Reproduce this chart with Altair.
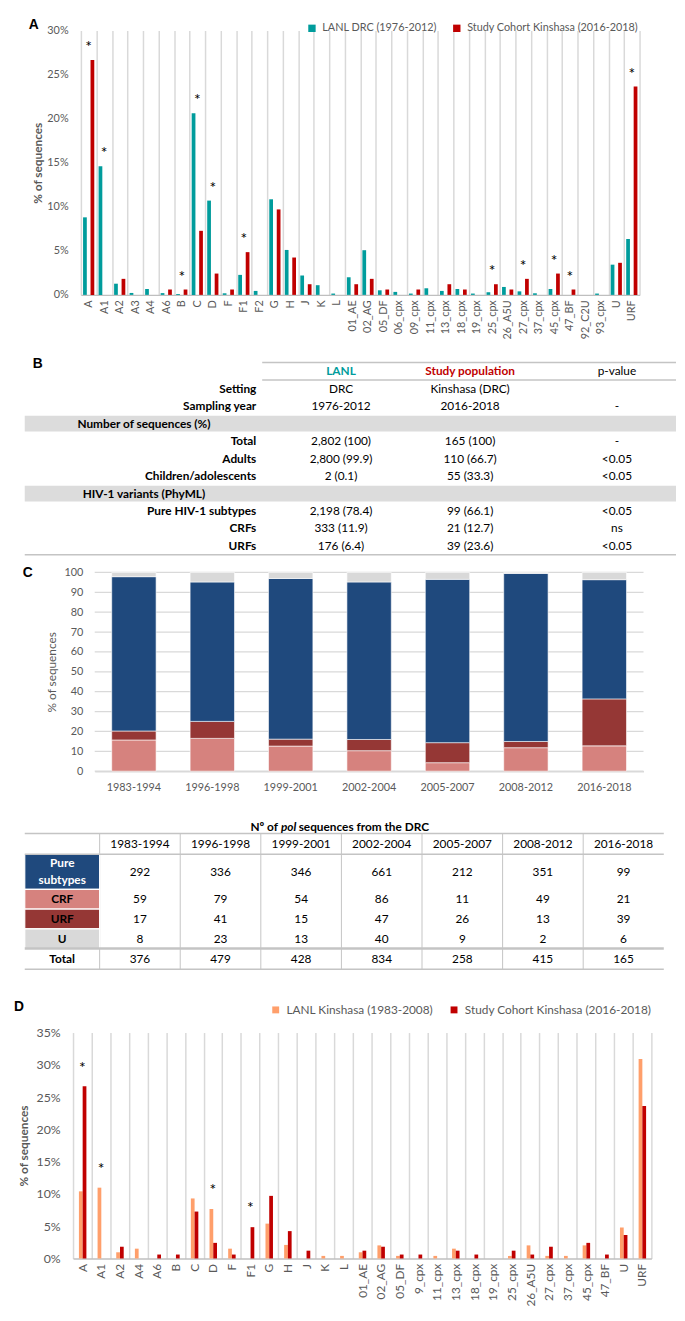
import altair as alt
import pandas as pd

FONT = "Lato"
TXT = "#595959"
GRID = "#D9D9D9"
AXIS_LINE = "#BFBFBF"
TEAL = "#009C9C"
RED = "#C00000"
ORANGE = "#FF9F6B"
BLUE = "#1F497D"
CRF_C = "#D6827E"
URF_C = "#953735"
U_C = "#D9D9D9"
BAND = "#DCDCDC"
LINE = "#C4C4C4"

# ---------------- Panel A data ----------------
a_subtypes = ["A", "A1", "A2", "A3", "A4", "A6", "B", "C", "D", "F", "F1", "F2", "G", "H", "J", "K", "L",
              "01_AE", "02_AG", "05_DF", "06_cpx", "09_cpx", "11_cpx", "13_cpx", "18_cpx", "19_cpx",
              "25_cpx", "26_A5U", "27_cpx", "37_cpx", "45_cpx", "47_BF", "92_C2U", "93_cpx", "U", "URF"]
a_lanl = [8.8, 14.6, 1.27, 0.22, 0.67, 0.2, 0.1, 20.6, 10.7, 0.18, 2.27, 0.45, 10.85, 5.1, 2.2, 1.1, 0.15,
          2.0, 5.07, 0.52, 0.34, 0.15, 0.75, 0.45, 0.67, 0.15, 0.3, 0.9, 0.4, 0.18, 0.67, 0.0, 0.0, 0.15,
          3.43, 6.34]
a_study = [26.67, 0, 1.82, 0, 0, 0.61, 0.61, 7.27, 2.42, 0.61, 4.85, 0, 9.7, 4.24, 1.21, 0, 0,
           1.21, 1.82, 0.61, 0, 0.61, 0, 1.21, 0.61, 0, 1.21, 0.61, 1.82, 0, 2.42, 0.61, 0, 0,
           3.64, 23.64]
a_stars = ["A", "A1", "B", "C", "D", "F1", "25_cpx", "27_cpx", "45_cpx", "47_BF", "URF"]
a_series = ["LANL DRC (1976-2012)", "Study Cohort Kinshasa (2016-2018)"]

# ---------------- Panel B data ----------------
b_labels = ["", "Setting", "Sampling year", "Number of sequences (%)", "Total", "Adults",
            "Children/adolescents", "HIV-1 variants (PhyML)", "Pure HIV-1 subtypes", "CRFs", "URFs"]
b_lanl = ["LANL", "DRC", "1976-2012", "", "2,802 (100)", "2,800 (99.9)", "2 (0.1)", "",
          "2,198 (78.4)", "333 (11.9)", "176 (6.4)"]
b_study = ["Study population", "Kinshasa (DRC)", "2016-2018", "", "165 (100)", "110 (66.7)",
           "55 (33.3)", "", "99 (66.1)", "21 (12.7)", "39 (23.6)"]
b_p = ["p-value", "", "-", "", "-", "<0.05", "<0.05", "", "<0.05", "ns", "<0.05"]
b_sections = [3, 7]

# ---------------- Panel C data ----------------
periods = ["1983-1994", "1996-1998", "1999-2001", "2002-2004", "2005-2007", "2008-2012", "2016-2018"]
c_pure = [292, 336, 346, 661, 212, 351, 99]
c_crf = [59, 79, 54, 86, 11, 49, 21]
c_urf = [17, 41, 15, 47, 26, 13, 39]
c_u = [8, 23, 13, 40, 9, 2, 6]
c_total = [376, 479, 428, 834, 258, 415, 165]
c_cats = ["CRF", "URF", "Pure subtypes", "U"]
c_row_labels = ["Pure\nsubtypes", "CRF", "URF", "U", "Total"]
c_ticks = list(range(0, 101, 10))

# ---------------- Panel D data ----------------
d_subtypes = ["A", "A1", "A2", "A4", "A6", "B", "C", "D", "F", "F1", "G", "H", "J", "K", "L",
              "01_AE", "02_AG", "05_DF", "9_cpx", "11_cpx", "13_cpx", "18_cpx", "19_cpx", "25_cpx",
              "26_A5U", "27_cpx", "37_cpx", "45_cpx", "47_BF", "U", "URF"]
d_lanl = [10.4, 10.97, 0.96, 1.52, 0, 0, 9.3, 7.67, 1.52, 0, 5.4, 2.1, 0, 0.4, 0.4,
          0.96, 2.03, 0.4, 0, 0.4, 1.52, 0, 0, 0.4, 2.03, 0.4, 0.4, 2.03, 0, 4.8, 30.9]
d_study = [26.67, 0, 1.82, 0, 0.61, 0.61, 7.27, 2.42, 0.61, 4.85, 9.7, 4.24, 1.21, 0, 0,
           1.21, 1.82, 0.61, 0.61, 0, 1.21, 0.61, 0, 1.21, 0.61, 1.82, 0, 2.42, 0.61, 3.64, 23.64]
d_stars = ["A", "A1", "D", "F1"]
d_series = ["LANL Kinshasa (1983-2008)", "Study Cohort Kinshasa (2016-2018)"]

ONE = pd.DataFrame({"k": [0]})
X0 = 24          # page x of every panel's origin
VW = 661         # common view width (page 24 .. 685)


def frame(t, b):
    base = alt.Chart(ONE)
    return [base.mark_rule(color="white", strokeWidth=0.1).encode(
        x=alt.value(-16), x2=alt.value(VW), y=alt.value(yy)) for yy in (t, b)]


def letter(s, x, y):
    return alt.Chart(ONE).mark_text(text=s, font="Liberation Sans", fontWeight="bold", fontSize=14,
                                    align="left", baseline="middle", color="black").encode(
        x=alt.value(x - X0), y=alt.value(y))


def grouped_panel(subs, v1, v2, names, colors, stars, xl, xr, H, ymax, ystep, po, lab_fs, tick_fs,
                  title_x, leg_x, leg_y, leg_fs, sym, col_pad, star_dy, let, frm):
    L, R = xl - X0, xr - X0
    df = pd.DataFrame({"subtype": subs + subs,
                       "series": [names[0]] * len(subs) + [names[1]] * len(subs),
                       "value": list(v1) + list(v2)})
    top = {s: max(a, b) for s, a, b in zip(subs, v1, v2)}
    sdf = pd.DataFrame({"subtype": stars, "value": [top[s] for s in stars]})
    xenc = alt.X("subtype:N", sort=subs, scale=alt.Scale(paddingInner=0, paddingOuter=0, range=[L, R]),
                 axis=alt.Axis(title=None, labelAngle=270, labelFontSize=lab_fs, labelColor=TXT,
                               labelPadding=5, ticks=False, tickSize=0, tickBand="extent", grid=True,
                               gridColor=GRID, gridWidth=1.5, domainColor=AXIS_LINE, domainWidth=1.5))
    yenc = alt.Y("value:Q", scale=alt.Scale(domain=[0, ymax], nice=False),
                 axis=alt.Axis(values=list(range(0, ymax + 1, ystep)), labelExpr="datum.value + '%'",
                               offset=-L, grid=False, domain=False, ticks=False, tickSize=0, labelPadding=13,
                               labelFontSize=tick_fs, labelColor=TXT, title="% of sequences",
                               titleFontWeight="bold", titleFontSize=12, titleColor=TXT,
                               titleX=title_x - xl, titleY=H / 2, titleAngle=270, titleAlign="center",
                               titleBaseline="middle"))
    bars = alt.Chart(df).mark_bar().encode(
        x=xenc,
        xOffset=alt.XOffset("series:N", sort=names, scale=alt.Scale(paddingOuter=po, paddingInner=0)),
        y=yenc,
        color=alt.Color("series:N", sort=names, scale=alt.Scale(domain=names, range=colors),
                        legend=alt.Legend(title=None, orient="none", legendX=leg_x - X0, legendY=leg_y,
                                          direction="horizontal", symbolType="square", symbolSize=sym,
                                          symbolStrokeWidth=0, labelFontSize=leg_fs, labelColor=TXT,
                                          labelLimit=400, columnPadding=col_pad, labelOffset=5,
                                          padding=0)))
    star = alt.Chart(sdf).mark_text(text="*", fontSize=16, dy=star_dy, baseline="alphabetic",
                                    fill="black", color="black").encode(x=xenc, y=yenc)
    return alt.layer(*frame(*frm), bars, star, letter(*let)).properties(width=VW, height=H)


# ---------------- Panel A ----------------
panelA = grouped_panel(a_subtypes, a_lanl, a_study, a_series, [TEAL, RED], a_stars,
                       xl=81, xr=648, H=268.3, ymax=30, ystep=5, po=0.575, lab_fs=11, tick_fs=11,
                       title_x=37, leg_x=310, leg_y=-8, leg_fs=11, sym=56, col_pad=14,
                       star_dy=-8, let=("A", 28, -6), frm=(-10, 324.3))

# ---------------- Panel B (table) ----------------
HB = 195
xsB = alt.Scale(domain=list(range(8)), range=[0, 121, 235, 241, 321, 452, 601, 661], nice=False, zero=False)
ysB = alt.Scale(domain=[-0.5, 10.5], range=[0, HB], nice=False, zero=False)

df_band = pd.DataFrame({"c1": 0, "c2": 7, "r1": [r - 0.45 for r in b_sections],
                        "r2": [r + 0.45 for r in b_sections]})
df_lines = pd.DataFrame({"c1": [3, 3, 0], "c2": [7, 7, 7], "r": [-0.5, 0.5, 10.5]})
lab_rows = [(i, l) for i, l in enumerate(b_labels) if l and i not in b_sections]
df_lab = pd.DataFrame({"r": [i for i, _ in lab_rows], "c": 2, "t": [l for _, l in lab_rows]})
df_sec = pd.DataFrame({"r": b_sections, "c": 1, "t": [b_labels[i] for i in b_sections]})
df_head = pd.DataFrame({"r": [0, 0], "c": [4, 5], "t": [b_lanl[0], b_study[0]], "role": ["lanl", "study"]})
vals = []
for i in range(1, len(b_labels)):
    if b_lanl[i]:
        vals.append((i, 4, b_lanl[i]))
    if b_study[i]:
        vals.append((i, 5, b_study[i]))
for i in range(len(b_labels)):
    if b_p[i]:
        vals.append((i, 6, b_p[i]))
df_val = pd.DataFrame(vals, columns=["r", "c", "t"])

bx = alt.X("c:Q", scale=xsB, axis=None)
by = alt.Y("r:Q", scale=ysB, axis=None)
tB_band = alt.Chart(df_band).mark_rect(color=BAND).encode(
    x=alt.X("c1:Q", scale=xsB, axis=None), x2="c2:Q", y=alt.Y("r1:Q", scale=ysB, axis=None), y2="r2:Q")
tB_lines = alt.Chart(df_lines).mark_rule(color=LINE, strokeWidth=1.5).encode(
    x=alt.X("c1:Q", scale=xsB, axis=None), x2="c2:Q", y=alt.Y("r:Q", scale=ysB, axis=None))
tB_lab = alt.Chart(df_lab).mark_text(font=FONT, fontSize=12, fontWeight="bold", align="right",
                                     color="black").encode(x=bx, y=by, text="t:N")
tB_sec = alt.Chart(df_sec).mark_text(font=FONT, fontSize=12, fontWeight="bold", align="center",
                                     color="black").encode(x=bx, y=by, text="t:N")
tB_head = alt.Chart(df_head).mark_text(font=FONT, fontSize=12, fontWeight="bold", align="center").encode(
    x=bx, y=by, text="t:N",
    color=alt.Color("role:N", scale=alt.Scale(domain=["lanl", "study"], range=[TEAL, RED]), legend=None))
tB_val = alt.Chart(df_val).mark_text(font=FONT, fontSize=12, align="center", color="black").encode(
    x=bx, y=by, text="t:N")
panelB = alt.layer(*frame(-11.7, 200.3), tB_band, tB_lines, tB_lab, tB_sec, tB_head, tB_val,
                   letter("B", 32, 1.3)).properties(width=VW, height=HB)

# ---------------- Panel C (stacked bars) ----------------
HC = 201.7
CL, CR = 95 - X0, 652 - X0
dfc = pd.DataFrame({
    "period": periods * 4,
    "cat": sum([[c] * len(periods) for c in c_cats], []),
    "n": c_crf + c_urf + c_pure + c_u,
    "ord": sum([[k] * len(periods) for k in range(4)], []),
})
axC = alt.Axis(values=c_ticks, title="% of sequences", grid=False, offset=-CL,
               domain=False, ticks=False, tickSize=0,
               labelPadding=12, labelFontSize=11, labelColor=TXT, titleFontWeight="normal",
               titleFontSize=12, titleColor=TXT, titleX=51.7 - 95, titleY=HC / 2, titleAngle=270,
               titleAlign="center", titleBaseline="middle")
yscC = alt.Scale(domain=[0, 100], nice=False)
gridC = alt.Chart(pd.DataFrame({"pct": c_ticks})).mark_rule(color=GRID, strokeWidth=1.2).encode(
    x=alt.value(CL), x2=alt.value(CR), y=alt.Y("pct:Q", scale=yscC, axis=axC))
barsC = alt.Chart(dfc).transform_joinaggregate(tot="sum(n)", groupby=["period"]).transform_calculate(
    pct="100 * datum.n / datum.tot").mark_bar(stroke="white", strokeWidth=0.6).encode(
    x=alt.X("period:N", sort=periods, scale=alt.Scale(paddingInner=0.434, paddingOuter=0.217, range=[CL, CR]),
            axis=alt.Axis(title=None, labelAngle=0, labelFontSize=11, labelColor=TXT, labelPadding=11,
                          ticks=False, tickSize=0, domainColor=GRID, domainWidth=1.5, grid=False)),
    y=alt.Y("pct:Q", stack="zero", scale=yscC, axis=axC),
    color=alt.Color("cat:N", scale=alt.Scale(domain=c_cats, range=[CRF_C, URF_C, BLUE, U_C]), legend=None),
    order=alt.Order("ord:Q"))
panelC = alt.layer(*frame(-11, 240), gridC, barsC, letter("C", 22, 0.5)).properties(width=VW, height=HC)

# ---------------- Panel C (table) ----------------
HT = 137.7
xsC = alt.Scale(domain=[-0.5, 0.5, 1.5, 2.5, 3.5, 4.5, 5.5, 6.5, 7.5],
                range=[0, 76, 157.8, 239.6, 321.4, 403.2, 485, 566.8, 648.6], nice=False, zero=False)
ysC = alt.Scale(domain=[-0.5, 0.5, 1.5, 2.5, 3.5, 4.5, 5.5],
                range=[0, 21, 56.7, 76.7, 96.7, 116.7, 137.7], nice=False, zero=False)
cx = alt.X("c:Q", scale=xsC, axis=None)
cy = alt.Y("r:Q", scale=ysC, axis=None)

df_vsep = pd.DataFrame({"c": [k + 0.5 for k in range(7)], "r1": -0.5, "r2": 5.5})
df_hsep = pd.DataFrame({"c1": -0.5, "c2": 7.5, "r": [-0.5, 0.5, 4.5, 5.5], "w": [1.5, 1.5, 2.5, 1.5]})
df_cell = pd.DataFrame({"c1": -0.5, "c2": 0.5, "r1": [0.5, 1.5, 2.5, 3.5], "r2": [1.5, 2.5, 3.5, 4.5],
                        "cat": ["Pure subtypes", "CRF", "URF", "U"]})
df_pure = pd.DataFrame({"c": [0], "r": [1], "t": [c_row_labels[0]]})
df_rlab = pd.DataFrame({"c": 0, "r": [2, 3, 4, 5], "t": c_row_labels[1:]})
cvals = [(0, k + 1, p) for k, p in enumerate(periods)]
for ri, series in enumerate([c_pure, c_crf, c_urf, c_u, c_total]):
    for k, v in enumerate(series):
        cvals.append((ri + 1, k + 1, str(v)))
df_cval = pd.DataFrame(cvals, columns=["r", "c", "t"])

tC_vsep = alt.Chart(df_vsep).mark_rule(color=LINE, strokeWidth=1).encode(
    x=alt.X("c:Q", scale=xsC, axis=None), y=alt.Y("r1:Q", scale=ysC, axis=None), y2="r2:Q")
tC_hsep = alt.Chart(df_hsep).mark_rule(color=LINE).encode(
    x=alt.X("c1:Q", scale=xsC, axis=None), x2="c2:Q", y=alt.Y("r:Q", scale=ysC, axis=None),
    strokeWidth=alt.StrokeWidth("w:Q", scale=None))
tC_cell = alt.Chart(df_cell).mark_rect(stroke="white", strokeWidth=1.2).encode(
    x=alt.X("c1:Q", scale=xsC, axis=None), x2="c2:Q", y=alt.Y("r1:Q", scale=ysC, axis=None), y2="r2:Q",
    color=alt.Color("cat:N", scale=alt.Scale(domain=c_cats, range=[CRF_C, URF_C, BLUE, U_C]), legend=None))
tC_pure = alt.Chart(df_pure).mark_text(font=FONT, fontSize=12, fontWeight="bold", align="center",
                                       baseline="middle", lineBreak="\n", lineHeight=17.5, dy=-8.75,
                                       color="white").encode(x=cx, y=cy, text="t:N")
tC_rlab = alt.Chart(df_rlab).mark_text(font=FONT, fontSize=12, fontWeight="bold", align="center",
                                       color="black").encode(x=cx, y=cy, text="t:N")
tC_val = alt.Chart(df_cval).mark_text(font=FONT, fontSize=12, align="center", color="black").encode(
    x=cx, y=cy, text="t:N")
title_parts = [
    alt.Chart(ONE).mark_text(text="Nº of", font=FONT, fontSize=12, fontWeight="bold", align="right",
                             baseline="middle", color="black").encode(x=alt.value(257), y=alt.value(-7)),
    alt.Chart(ONE).mark_text(text="pol", font=FONT, fontSize=12, fontWeight="bold", fontStyle="italic",
                             align="left", baseline="middle", color="black").encode(x=alt.value(260), y=alt.value(-7)),
    alt.Chart(ONE).mark_text(text="sequences from the DRC", font=FONT, fontSize=12, fontWeight="bold",
                             align="left", baseline="middle", color="black").encode(x=alt.value(278), y=alt.value(-7)),
]
panelCt = alt.layer(*frame(-23.3, 150.7), tC_vsep, tC_cell, tC_hsep, tC_pure, tC_rlab, tC_val,
                    *title_parts).properties(width=VW, height=HT)

# ---------------- Panel D ----------------
panelD = grouped_panel(d_subtypes, d_lanl, d_study, d_series, [ORANGE, RED], d_stars,
                       xl=73, xr=660, H=229.3, ymax=35, ystep=5, po=0.456, lab_fs=12, tick_fs=12.5,
                       title_x=23.3, leg_x=272.7, leg_y=-29, leg_fs=12, sym=49, col_pad=15,
                       star_dy=-14, let=("D", 13, -26), frm=(-50.7, 290.3))

chart = alt.vconcat(panelA, panelB, panelC, panelCt, panelD, spacing=0).resolve_scale(
    color="independent").resolve_legend(color="independent").properties(
    padding=0).configure(font=FONT).configure_view(stroke=None)

chart.save("out.html", embed_options={"renderer": "svg", "actions": False})
